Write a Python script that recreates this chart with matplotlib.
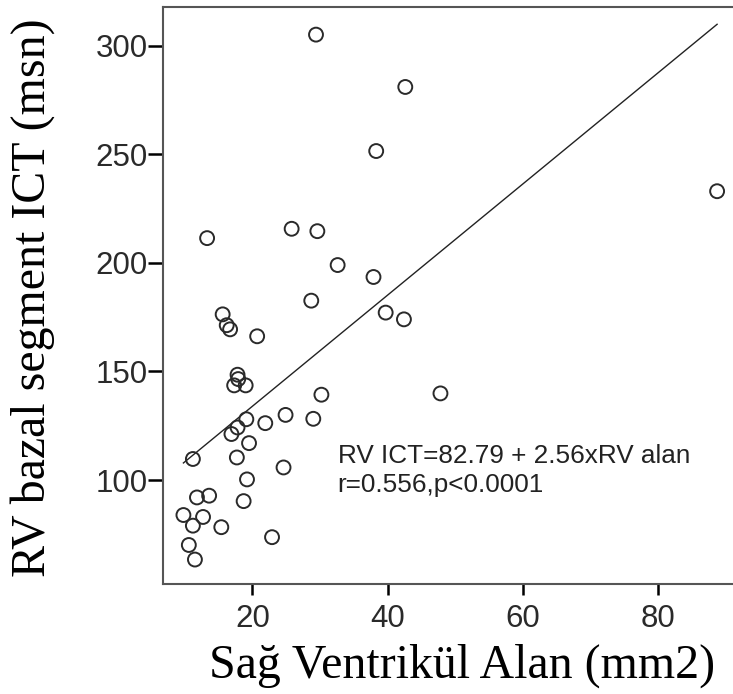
import matplotlib
matplotlib.use("Agg")
import matplotlib.pyplot as plt
import numpy as np

# Data
rv_alan = [29.4, 42.6, 38.3, 13.3, 25.8, 29.6, 32.6, 37.9, 28.7, 39.7,
           42.4, 15.6, 16.2, 16.7, 20.7, 17.8, 17.9, 17.3, 19.0, 30.2,
           47.8, 29.0, 24.9, 21.9, 19.1, 17.8, 16.9, 19.5, 11.2, 17.7,
           24.6, 19.2, 11.8, 13.6, 18.7, 9.8, 12.7, 11.2, 15.4, 22.9,
           10.6, 11.5, 88.7]
rv_ict = [305.1, 281.0, 251.5, 211.4, 215.7, 214.6, 199.0, 193.5, 182.6, 177.1,
          174.0, 176.3, 171.3, 169.4, 166.2, 148.5, 146.5, 143.6, 143.6, 139.3,
          139.9, 128.2, 130.0, 126.2, 128.0, 124.2, 121.2, 117.0, 109.7, 110.4,
          105.8, 100.3, 92.0, 92.8, 90.3, 83.9, 83.0, 79.0, 78.3, 73.7,
          70.1, 63.4, 233.0]
intercept = 82.79
slope = 2.56
x_ticks = [20, 40, 60, 80]
y_ticks = [100, 150, 200, 250, 300]
eq_text = "RV ICT=82.79 + 2.56xRV alan"
r_text = "r=0.556,p<0.0001"
x_label = "Sağ Ventrikül Alan (mm2)"
y_label = "RV bazal segment ICT (msn)"

W, H = 733, 694
fig = plt.figure(figsize=(W / 100, H / 100), dpi=100)
left, right, top, bottom = 163, 733, 6.7, 584.3
ax = fig.add_axes([left / W, 1 - bottom / H, (right - left) / W, (bottom - top) / H])

ax.scatter(rv_alan, rv_ict, s=100, facecolors="none", edgecolors="#2a2a2a",
           linewidths=1.4, zorder=3)

xs = np.array([min(rv_alan), max(rv_alan)])
ax.plot(xs, intercept + slope * xs, color="#222222", lw=1.0, zorder=2)

ax.set_xlim(6.78, 91.05)
ax.set_ylim(52.0, 317.96)
ax.set_xticks(x_ticks)
ax.set_yticks(y_ticks)

tick_font = dict(family=["Liberation Sans", "DejaVu Sans"], size=22.5, color="#2a2a2a")
ax.set_xticklabels([str(v) for v in x_ticks], **tick_font)
ax.set_yticklabels([str(v) for v in y_ticks], **tick_font)
ax.tick_params(axis="both", direction="out", width=1.8, color="black")
ax.tick_params(axis="x", length=8, pad=6)
ax.tick_params(axis="y", length=10.5, pad=0.5)

for side in ["left", "bottom", "top"]:
    ax.spines[side].set_color("#555555")
    ax.spines[side].set_linewidth(1.5)
ax.spines["right"].set_visible(False)

label_font = dict(family=["Liberation Serif", "DejaVu Serif"], size=34.5, color="black")
ax.set_xlabel(x_label, **label_font, va="center", ha="center")
ax.xaxis.set_label_coords(0.5246, -0.1410)
ax.set_ylabel(y_label, **label_font, va="center", ha="center")
ax.yaxis.set_label_coords(-0.228, 0.497)

ann_font = dict(family=["Liberation Sans", "DejaVu Sans"], size=18.8, color="#222222")
ax.text(32.6, 111.1, eq_text, ha="left", va="center", **ann_font)
ax.text(32.6, 97.8, r_text, ha="left", va="center", **ann_font)

fig.savefig("out.png", dpi=100)
